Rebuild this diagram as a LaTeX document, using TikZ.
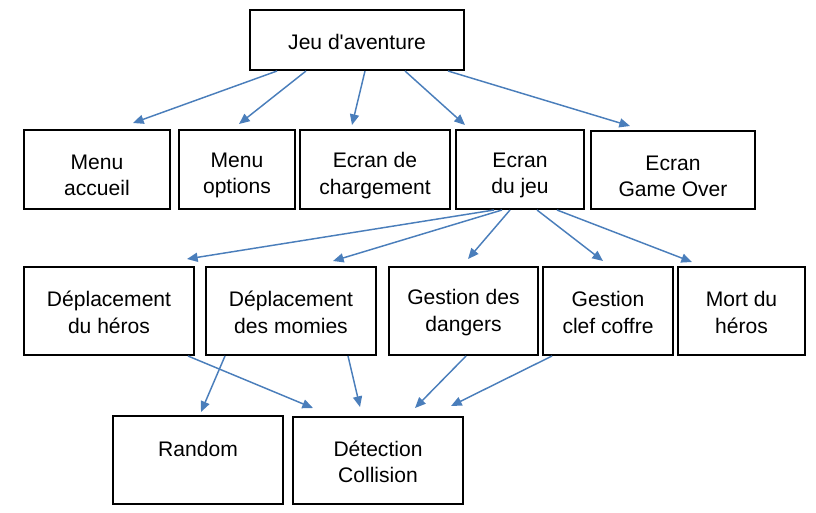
\documentclass[tikz,border=0pt]{standalone}
\usepackage{fontspec}
\setmainfont{Liberation Sans}
\usetikzlibrary{arrows.meta,calc}
\definecolor{arr}{RGB}{74,126,187}
\begin{document}
\begin{tikzpicture}[x=0.75pt,y=-0.75pt,
  box/.style={draw=black,line width=1.5pt,inner sep=0pt},
  txt/.style={align=center,inner sep=0pt,
    font=\fontsize{15.8pt}{19.8pt}\selectfont},
  link/.style={draw=arr,line width=1.1pt,-{Triangle[length=8pt,width=6.8pt]}}]
\useasboundingbox (0,0) rectangle (816,512);
% level 0
\node[box,minimum width=214*0.75pt,minimum height=60*0.75pt] (jeu) at (357,40) {};
\node[txt] (jeut) at ($(jeu.center)+(0,2)$) {Jeu d\textquotesingle aventure};
% level 1
\node[box,minimum width=146*0.75pt,minimum height=79*0.75pt] (macc) at (97,169.5) {};
\node[box,minimum width=116*0.75pt,minimum height=79*0.75pt] (mopt) at (237,169.5) {};
\node[box,minimum width=150*0.75pt,minimum height=79*0.75pt] (chg) at (375,169.5) {};
\node[box,minimum width=128*0.75pt,minimum height=79*0.75pt] (ejeu) at (520,169.5) {};
\node[box,minimum width=164*0.75pt,minimum height=78*0.75pt] (gover) at (673,170) {};
\node[txt] (macct) at ($(macc.center)+(0,6)$) {Menu\\accueil};
\node[txt] (moptt) at ($(mopt.center)+(0,6)$) {Menu\\options};
\node[txt] (chgt) at ($(chg.center)+(0,6)$) {Ecran de\\chargement};
\node[txt] (ejeut) at ($(ejeu.center)+(0,6)$) {Ecran\\du jeu};
\node[txt] (govert) at ($(gover.center)+(0,6.5)$) {Ecran\\Game Over};
% level 2
\node[box,minimum width=170*0.75pt,minimum height=88*0.75pt] (dhero) at (109,311) {};
\node[box,minimum width=170*0.75pt,minimum height=88*0.75pt] (dmom) at (291,311) {};
\node[box,minimum width=149*0.75pt,minimum height=88*0.75pt] (gdang) at (463.5,311) {};
\node[box,minimum width=130*0.75pt,minimum height=88*0.75pt] (gclef) at (608,311) {};
\node[box,minimum width=127*0.75pt,minimum height=88*0.75pt] (mort) at (741.5,311) {};
\node[txt] (dherot) at ($(dhero.center)+(0,1.5)$) {Déplacement\\du héros};
\node[txt] (dmomt) at ($(dmom.center)+(0,1.5)$) {Déplacement\\des momies};
\node[txt] (gdangt) at ($(gdang.center)+(0,1.5)$) {Gestion des\\dangers};
\node[txt] (gcleft) at ($(gclef.center)+(0,1.5)$) {Gestion\\clef coffre};
\node[txt] (mortt) at ($(mort.center)+(0,1.5)$) {Mort du\\héros};
% level 3
\node[box,minimum width=170*0.75pt,minimum height=88*0.75pt] (rand) at (198,460) {};
\node[box,minimum width=170*0.75pt,minimum height=87*0.75pt] (detc) at (378,460.5) {};
\node[txt] (randt) at ($(rand.center)+(0,2)$) {Random\\\phantom{X}};
\node[txt] (detct) at ($(detc.center)+(0,1.5)$) {Détection\\Collision};
% arrows level 0 -> 1
\draw[link] ($(jeu.south)+(-80,0)$) -- ($(macc.north)+(36,-6)$);
\draw[link] ($(jeu.south)+(-51,0)$) -- ($(mopt.north)+(2,-5)$);
\draw[link] ($(jeu.south)+(8,0)$) -- ($(chg.north)+(-23,-4)$);
\draw[link] ($(jeu.south)+(48,0)$) -- ($(ejeu.north)+(-55,-4)$);
\draw[link] ($(jeu.south)+(91,0)$) -- ($(gover.north)+(-43,-4)$);
% arrows level 1 -> 2
\draw[link] ($(ejeu.south)+(-26,0)$) -- ($(dhero.north)+(78,-7)$);
\draw[link] ($(ejeu.south)+(-18,0)$) -- ($(dmom.north)+(42,-5)$);
\draw[link] ($(ejeu.south)+(-10,0)$) -- ($(gdang.north)+(4.5,-7)$);
\draw[link] ($(ejeu.south)+(17,0)$) -- ($(gclef.north)+(-5,-5)$);
\draw[link] ($(ejeu.south)+(37,0)$) -- ($(mort.north)+(-49.5,-4)$);
% arrows level 2 -> 3
\draw[link] ($(dhero.south)+(79,0)$) -- ($(detc.north)+(-65,-8)$);
\draw[link] ($(dmom.south)+(-66,0)$) -- ($(rand.north)+(3,-3)$);
\draw[link] ($(dmom.south)+(57,0)$) -- ($(detc.north)+(-18,-9)$);
\draw[link] ($(gdang.south)+(2.5,0)$) -- ($(detc.north)+(37,-8)$);
\draw[link] ($(gclef.south)+(-56,0)$) -- ($(detc.north)+(73,-10)$);
\end{tikzpicture}
\end{document}
